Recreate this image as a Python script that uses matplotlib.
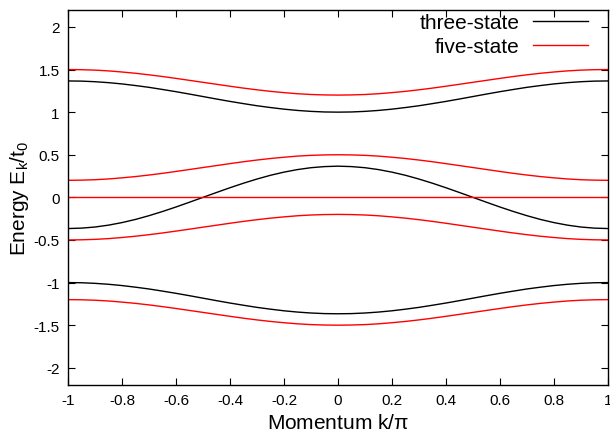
import numpy as np
import matplotlib
matplotlib.use("Agg")
import matplotlib.pyplot as plt
from matplotlib.ticker import MultipleLocator, FuncFormatter

plt.rcParams['font.family'] = ['Liberation Sans', 'DejaVu Sans']
plt.rcParams['axes.unicode_minus'] = False
plt.rcParams['mathtext.default'] = 'regular'

# momentum k/pi, sampled every 0.05
k = np.linspace(-1, 1, 41)

# three-state bands
three_top = [1.366, 1.364, 1.357, 1.346, 1.331, 1.312, 1.291, 1.266, 1.240, 1.212, 1.183,
             1.154, 1.126, 1.100, 1.075, 1.054, 1.035, 1.020, 1.009, 1.002, 1.000,
             1.002, 1.009, 1.020, 1.035, 1.054, 1.075, 1.100, 1.126, 1.154, 1.183,
             1.212, 1.240, 1.266, 1.291, 1.312, 1.331, 1.346, 1.357, 1.364, 1.366]
three_mid = [-0.366, -0.361, -0.348, -0.326, -0.296, -0.259, -0.215, -0.166, -0.113, -0.057, 0.000,
             0.057, 0.113, 0.166, 0.215, 0.259, 0.296, 0.326, 0.348, 0.361, 0.366,
             0.361, 0.348, 0.326, 0.296, 0.259, 0.215, 0.166, 0.113, 0.057, 0.000,
             -0.057, -0.113, -0.166, -0.215, -0.259, -0.296, -0.326, -0.348, -0.361, -0.366]
three_bot = [-1.000, -1.002, -1.009, -1.020, -1.035, -1.054, -1.075, -1.100, -1.126, -1.154, -1.183,
             -1.212, -1.240, -1.266, -1.291, -1.312, -1.331, -1.346, -1.357, -1.364, -1.366,
             -1.364, -1.357, -1.346, -1.331, -1.312, -1.291, -1.266, -1.240, -1.212, -1.183,
             -1.154, -1.126, -1.100, -1.075, -1.054, -1.035, -1.020, -1.009, -1.002, -1.000]

# five-state bands
five_1 = [1.500, 1.498, 1.493, 1.484, 1.471, 1.456, 1.438, 1.418, 1.396, 1.373, 1.350,
          1.327, 1.304, 1.282, 1.262, 1.244, 1.229, 1.216, 1.207, 1.202, 1.200,
          1.202, 1.207, 1.216, 1.229, 1.244, 1.262, 1.282, 1.304, 1.327, 1.350,
          1.373, 1.396, 1.418, 1.438, 1.456, 1.471, 1.484, 1.493, 1.498, 1.500]
five_2 = [0.200, 0.202, 0.207, 0.216, 0.229, 0.244, 0.262, 0.282, 0.304, 0.327, 0.350,
          0.373, 0.396, 0.418, 0.438, 0.456, 0.471, 0.484, 0.493, 0.498, 0.500,
          0.498, 0.493, 0.484, 0.471, 0.456, 0.438, 0.418, 0.396, 0.373, 0.350,
          0.327, 0.304, 0.282, 0.262, 0.244, 0.229, 0.216, 0.207, 0.202, 0.200]
five_3 = [0.0] * 41
five_4 = [-0.500, -0.498, -0.493, -0.484, -0.471, -0.456, -0.438, -0.418, -0.396, -0.373, -0.350,
          -0.327, -0.304, -0.282, -0.262, -0.244, -0.229, -0.216, -0.207, -0.202, -0.200,
          -0.202, -0.207, -0.216, -0.229, -0.244, -0.262, -0.282, -0.304, -0.327, -0.350,
          -0.373, -0.396, -0.418, -0.438, -0.456, -0.471, -0.484, -0.493, -0.498, -0.500]
five_5 = [-1.200, -1.202, -1.207, -1.216, -1.229, -1.244, -1.262, -1.282, -1.304, -1.327, -1.350,
          -1.373, -1.396, -1.418, -1.438, -1.456, -1.471, -1.484, -1.493, -1.498, -1.500,
          -1.498, -1.493, -1.484, -1.471, -1.456, -1.438, -1.418, -1.396, -1.373, -1.350,
          -1.327, -1.304, -1.282, -1.262, -1.244, -1.229, -1.216, -1.207, -1.202, -1.200]

fig = plt.figure(figsize=(6.1, 4.35), dpi=100)
ax = fig.add_axes([0.1115, 0.113, 0.885, 0.862])

black = '#000000'
red = '#ff0000'
lw = 1.0
for i, band in enumerate([three_top, three_mid, three_bot]):
    ax.plot(k, band, color=black, lw=lw, label='three-state' if i == 0 else None)
for i, band in enumerate([five_1, five_2, five_3, five_4, five_5]):
    ax.plot(k, band, color=red, lw=lw, label='five-state' if i == 0 else None)

ax.set_xlim(-1, 1)
ax.set_ylim(-2.2, 2.2)
ax.xaxis.set_major_locator(MultipleLocator(0.2))
ax.yaxis.set_major_locator(MultipleLocator(0.5))
fmt = FuncFormatter(lambda v, p: '%g' % round(v, 6))
ax.xaxis.set_major_formatter(fmt)
ax.yaxis.set_major_formatter(fmt)
ax.tick_params(direction='in', top=True, right=True, length=5, width=0.8,
               labelsize=11, pad=6)
for s in ax.spines.values():
    s.set_linewidth(1.0)

ax.set_xlabel(r'Momentum k/$\pi$', fontsize=15, labelpad=4)
ax.set_ylabel(r'Energy E$_k$/t$_0$', fontsize=15, labelpad=2)

ax.legend(loc='upper right', bbox_to_anchor=(0.963, 0.991), frameon=False,
          markerfirst=False, fontsize=15, handlelength=2.65, handletextpad=0.65,
          labelspacing=0.25, borderaxespad=0, borderpad=0)

plt.savefig('out.png', dpi=100)
